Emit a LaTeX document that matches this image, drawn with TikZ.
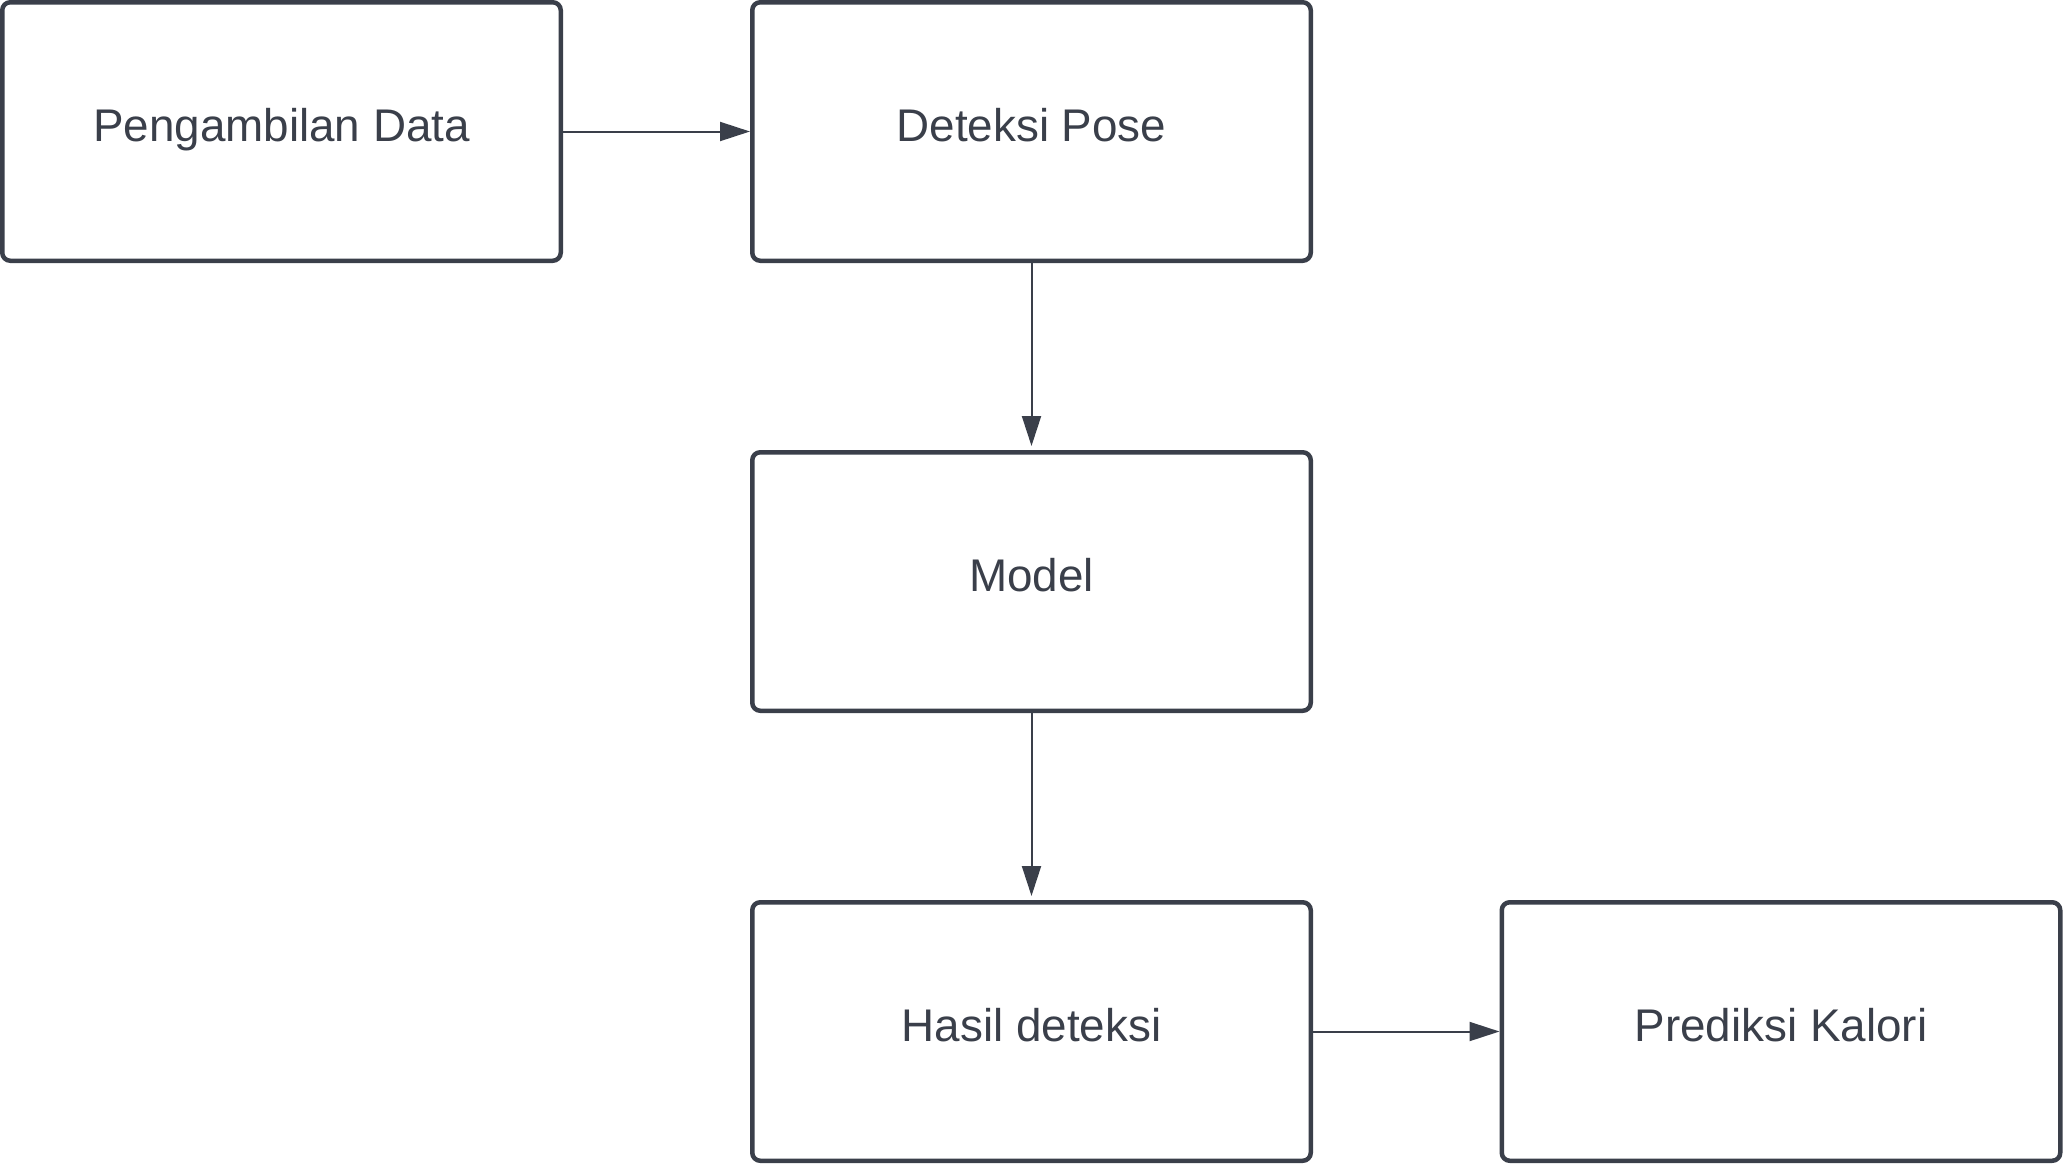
\documentclass[tikz,border=0pt]{standalone}
\usepackage{fontspec}
\setmainfont{Liberation Sans}
\usetikzlibrary{arrows.meta}
\definecolor{slate}{HTML}{3A3F4A}

\begin{document}
\begin{tikzpicture}[x=0.5pt, y=-0.5pt, line join=round,
  stepbox/.style={draw=slate, line width=2.25pt, rounded corners=4pt, fill=white,
    minimum width=279.25pt, minimum height=129.25pt, inner sep=0pt,
    text height=16.5pt, text depth=6.5pt,
    text=slate, font=\fontsize{22.9}{27}\selectfont},
  flow/.style={draw=slate, line width=1pt, -{Triangle[length=15pt,width=9.5pt]}}]

\useasboundingbox (0,0) rectangle (2063,1163);

\node[stepbox] (data) at (281.5,131.5) {Pengambilan Data};
\node[stepbox] (pose) at (1031.5,131.5) {Deteksi Pose};
\node[stepbox] (model) at (1031.5,581.5) {Model};
\node[stepbox] (hasil) at (1031.5,1031.5) {Hasil deteksi};
\node[stepbox] (kalori) at (1781,1031.5) {Prediksi Kalori};

\draw[flow] (data.east) -- (pose.west);
\draw[flow] (pose.south) -- ([yshift=2pt]model.north);
\draw[flow] (model.south) -- ([yshift=2pt]hasil.north);
\draw[flow] (hasil.east) -- (kalori.west);

\end{tikzpicture}
\end{document}
